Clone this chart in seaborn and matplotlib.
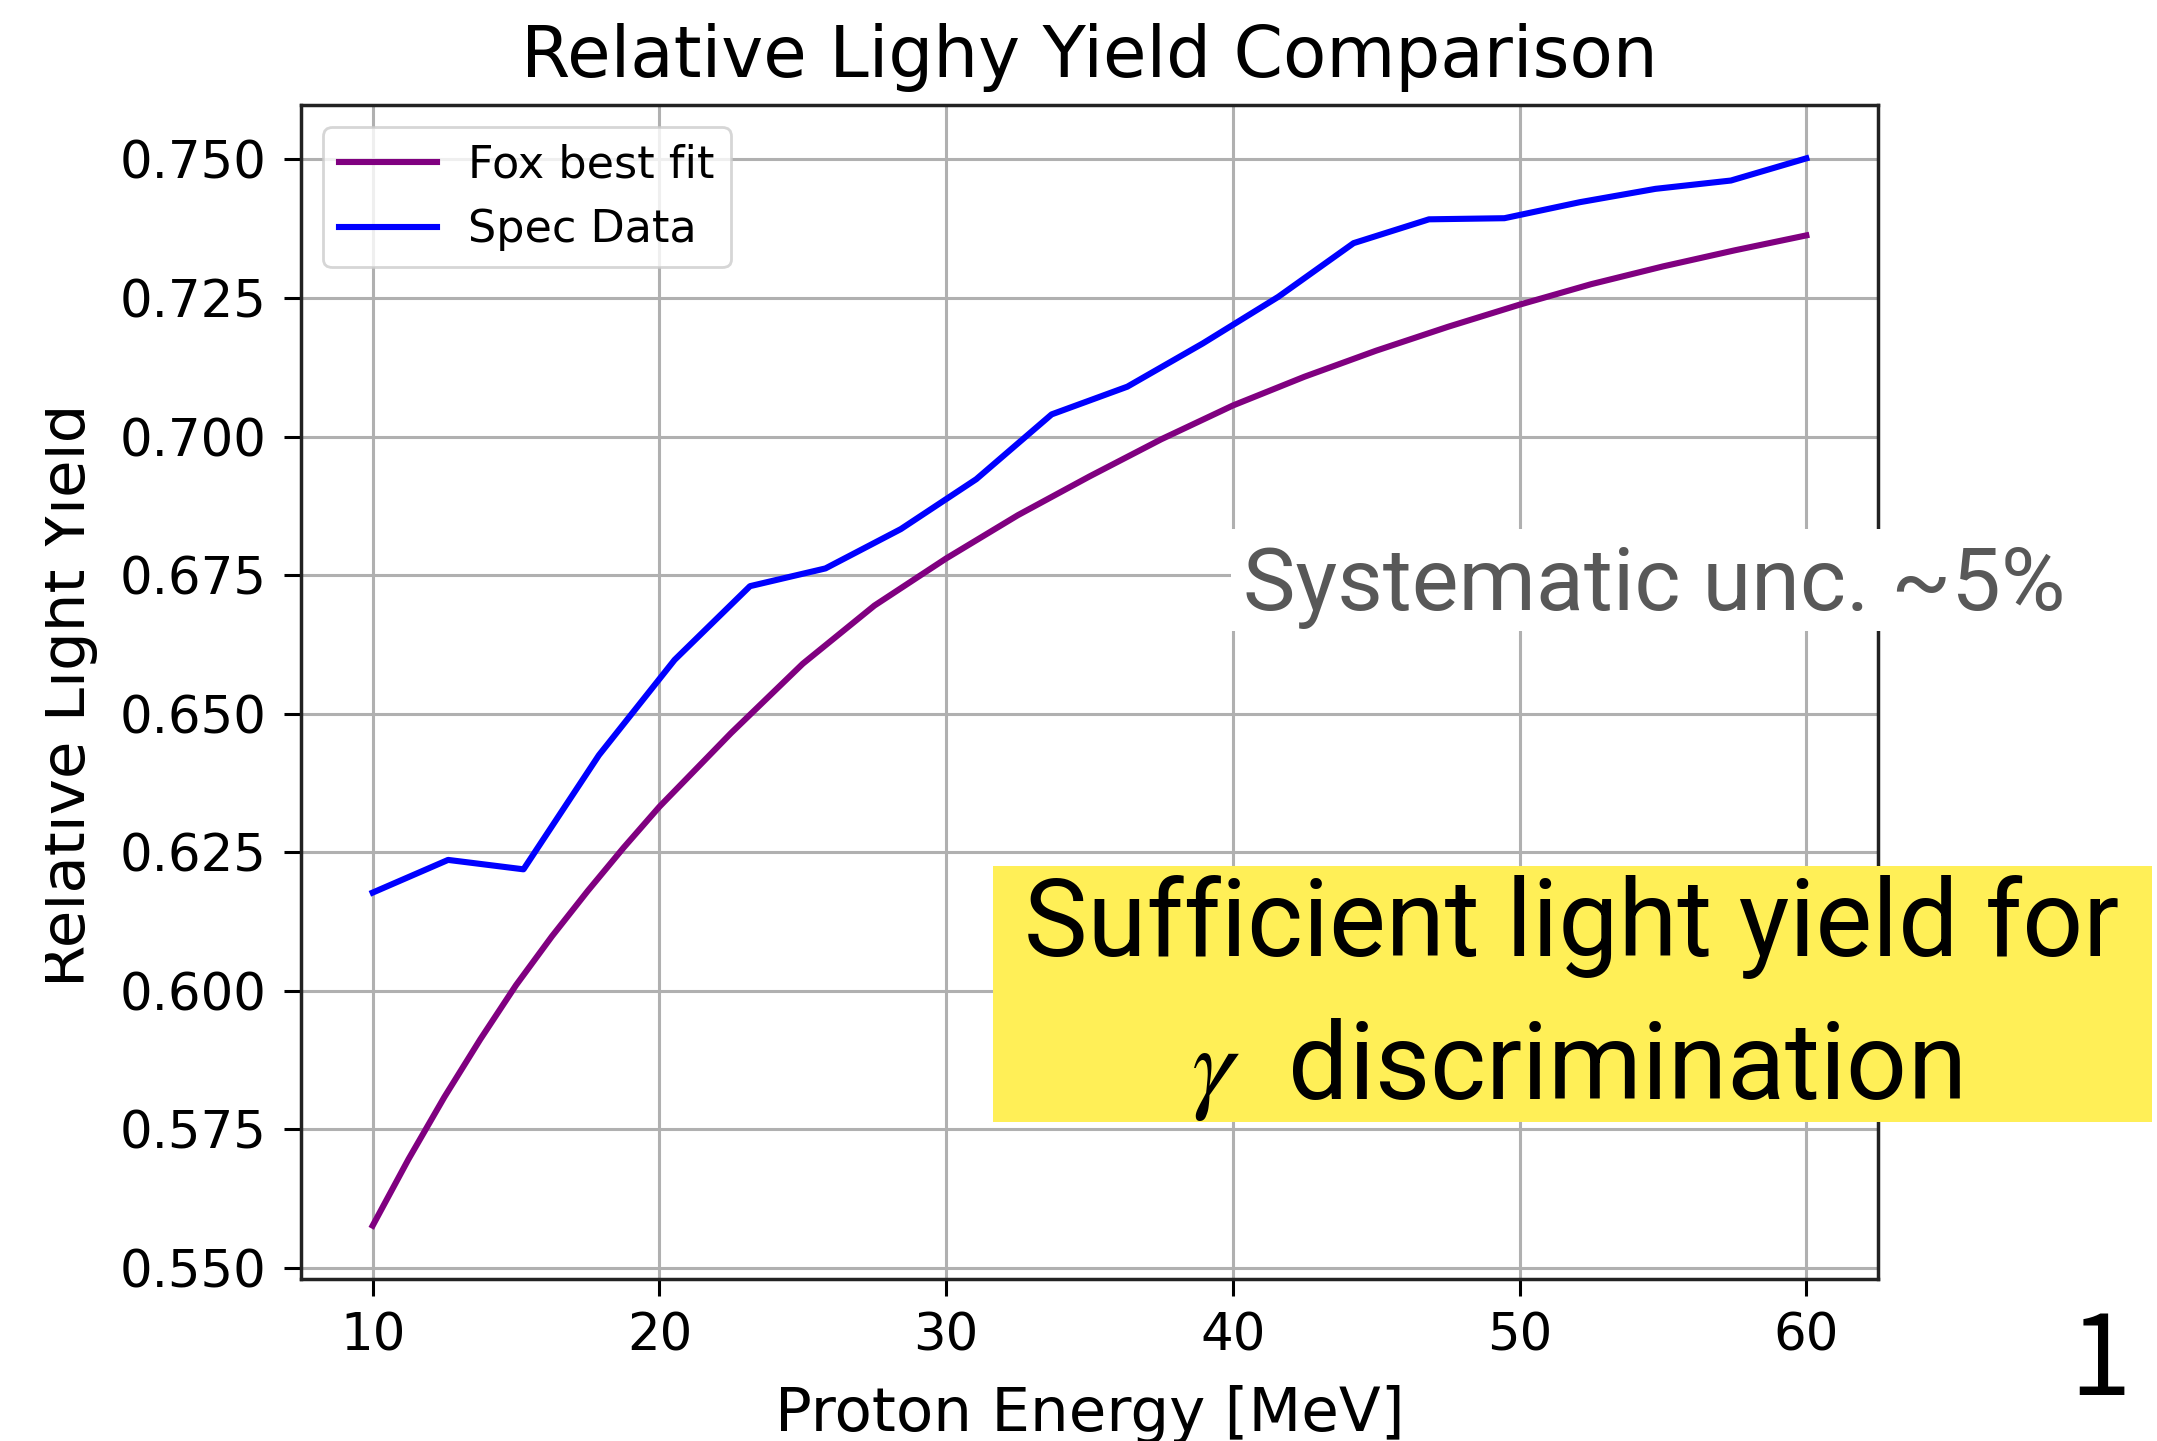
import numpy as np
import pandas as pd
import matplotlib
matplotlib.use("Agg")
import matplotlib.pyplot as plt
from matplotlib.patches import Rectangle
from matplotlib.ticker import FormatStrFormatter
import seaborn as sns

# Fox model best fit: proton energy (MeV) and relative light yield
fit_energy = [10.0, 11.25, 12.5, 13.75, 15.0, 16.25, 17.5, 18.75, 20.0, 22.5, 25.0, 27.5, 30.0,
              32.5, 35.0, 37.5, 40.0, 42.5, 45.0, 47.5, 50.0, 52.5, 55.0, 57.5, 60.0]
fox_fit = [0.5576, 0.5696, 0.5808, 0.5912, 0.6010, 0.6098, 0.6180, 0.6258, 0.6332, 0.6465,
           0.6590, 0.6695, 0.6780, 0.6858, 0.6928, 0.6995, 0.7056, 0.7108, 0.7155, 0.7198,
           0.7238, 0.7275, 0.7307, 0.7336, 0.7363]

# Measured (spectrum) relative light yield
spec_energy = [10.00, 12.63, 15.26, 17.89, 20.53, 23.16, 25.79, 28.42, 31.05, 33.68,
               36.32, 38.95, 41.58, 44.21, 46.84, 49.47, 52.11, 54.74, 57.37, 60.00]
spec_data = [0.6177, 0.6236, 0.6219, 0.6425, 0.6597, 0.6730, 0.6762, 0.6833, 0.6923, 0.7040,
             0.7090, 0.7168, 0.7252, 0.7349, 0.7392, 0.7394, 0.7423, 0.7447, 0.7462, 0.7502]

series_names = ["Fox best fit", "Spec Data"]
series_colors = ["purple", "blue"]
x_ticks = [10, 20, 30, 40, 50, 60]
y_ticks = [0.550, 0.575, 0.600, 0.625, 0.650, 0.675, 0.700, 0.725, 0.750]

df = pd.concat([
    pd.DataFrame({"energy": fit_energy, "yield": fox_fit, "series": series_names[0]}),
    pd.DataFrame({"energy": spec_energy, "yield": spec_data, "series": series_names[1]}),
], ignore_index=True)

W, H = 2157, 1441
plt.rcParams.update({
    "font.family": ["DejaVu Sans"],
    "mathtext.fontset": "stix",
    "axes.linewidth": 2.5,
    "xtick.major.size": 12, "ytick.major.size": 12,
    "xtick.major.width": 2.2, "ytick.major.width": 2.2,
    "xtick.major.pad": 11.5, "ytick.major.pad": 13,
    "xtick.labelsize": 37, "ytick.labelsize": 37,
})

fig = plt.figure(figsize=(W / 100, H / 100), dpi=100)
fig.patch.set_facecolor("white")
ax = fig.add_axes([301 / W, 1 - 1279 / H, 1577 / W, 1174 / H])

sns.lineplot(data=df, x="energy", y="yield", hue="series", hue_order=series_names,
             palette=dict(zip(series_names, series_colors)), estimator=None,
             linewidth=4.4, ax=ax)

ax.set_xticks(x_ticks)
ax.set_yticks(y_ticks)
ax.yaxis.set_major_formatter(FormatStrFormatter("%.3f"))
ax.grid(True, color="#b0b0b0", linewidth=2.2)
for s in ax.spines.values():
    s.set_color("#222222")

ax.set_title("Relative Lighy Yield Comparison", fontsize=51, pad=20)
ax.set_xlabel("Proton Energy [MeV]", fontsize=44)
ax.set_ylabel("Relative Light Yield", fontsize=44)
ax.xaxis.set_label_coords(0.5, -0.0903)
ax.yaxis.set_label_coords(-0.1287, 0.497)

leg = ax.legend(loc="upper left", fontsize=32, handlelength=2.2, handletextpad=0.7,
                borderpad=0.36, title=None)
leg.get_frame().set_linewidth(2)

# left border of the slide cuts into the y label
fig.add_artist(Rectangle((0, 0), 45 / W, 1, transform=fig.transFigure,
                         facecolor="white", edgecolor="none", zorder=10))

txt_font = ["Roboto", "DejaVu Sans"]

# systematic uncertainty note on a white box
fig.add_artist(Rectangle((1231 / W, 1 - 631 / H), (2075 - 1231) / W, (631 - 529) / H,
                         transform=fig.transFigure, facecolor="white",
                         edgecolor="none", zorder=5))
fig.text(1243 / W, 1 - 610 / H, "Systematic unc. ~5%", fontsize=63.5, color="#585858",
         family=txt_font, ha="left", va="baseline", zorder=6)

# highlighted conclusion
fig.add_artist(Rectangle((993 / W, 1 - 1122 / H), (2152 - 993) / W, (1122 - 866) / H,
                         transform=fig.transFigure, facecolor="#FFEF57",
                         edgecolor="none", zorder=5))
fig.text(1572 / W, 1 - 956 / H, "Sufficient light yield for", fontsize=77, color="black",
         family=txt_font, ha="center", va="baseline", zorder=6)
fig.text(1576 / W, 1 - 1099 / H, r"$\gamma$  discrimination", fontsize=77, color="black",
         family=txt_font, ha="center", va="baseline", zorder=6)

# page number
fig.text(2100 / W, 1 - 1395 / H, "1", fontsize=80, color="black",
         family=["Noto Sans CJK JP", "DejaVu Sans"], ha="center", va="baseline",
         zorder=6)

fig.savefig("out.png", dpi=100, facecolor="white")
